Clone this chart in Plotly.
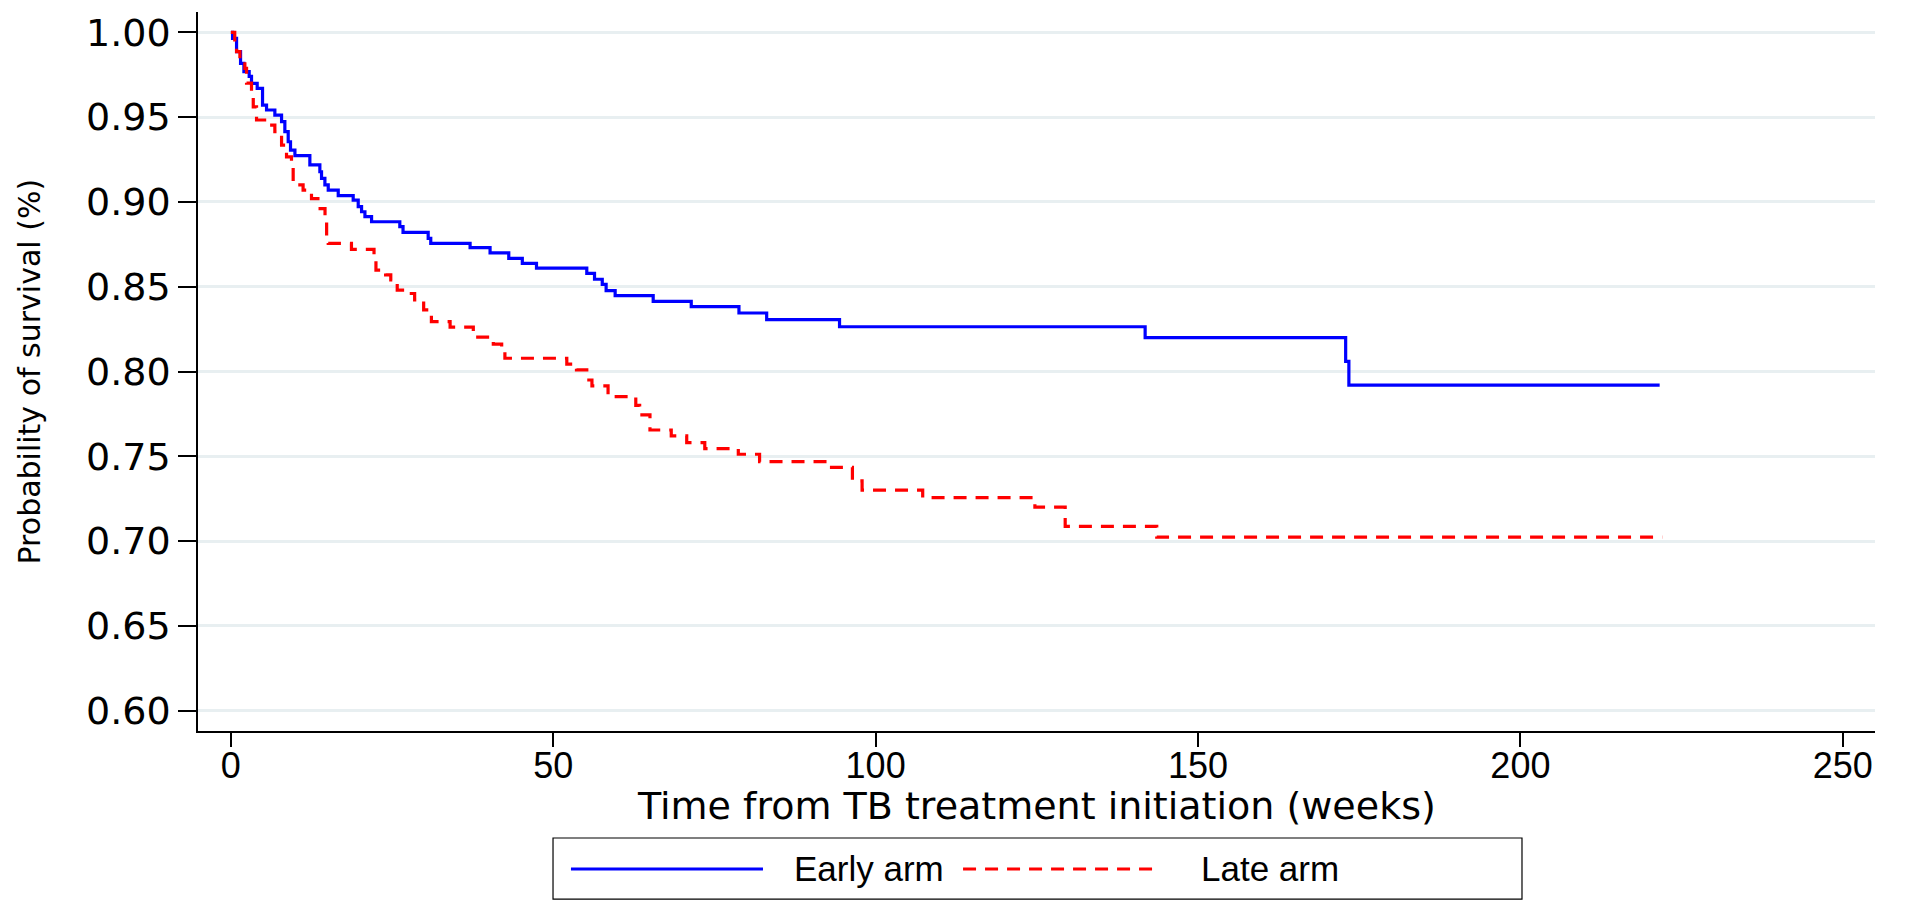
import plotly.graph_objects as go

# Kaplan-Meier step points (time in weeks, survival probability)
early_weeks = [0, 0.26, 0.88, 1.5, 2.02, 2.84, 3.2, 4.08, 4.91, 5.53, 6.82, 7.86, 8.37, 8.89,
               9.25, 9.93, 12.25, 13.8, 14.06, 14.58, 15.1, 16.65, 18.97, 19.75, 20.27, 20.79,
               21.82, 26.2, 26.7, 30.6, 31.0, 37.1, 40.2, 43.1, 45.2, 47.4, 55.2, 56.4, 57.6,
               58.2, 59.6, 65.5, 71.4, 78.8, 83.1, 94.4, 141.8, 172.9, 173.4, 221.6]
early_surv = [1.0, 0.9964, 0.9886, 0.9817, 0.9768, 0.974, 0.9699, 0.967, 0.9571, 0.9542,
              0.9512, 0.9473, 0.9414, 0.9355, 0.9306, 0.9273, 0.9218, 0.9178, 0.9139, 0.910,
              0.907, 0.9037, 0.9011, 0.8972, 0.8942, 0.8913, 0.8883, 0.8854, 0.882, 0.8785,
              0.8756, 0.873, 0.870, 0.8667, 0.8638, 0.861, 0.8579, 0.8544, 0.8514, 0.8477,
              0.8447, 0.8414, 0.8382, 0.8345, 0.8306, 0.8264, 0.820, 0.806, 0.792, 0.792]

late_weeks = [0, 0.6, 0.88, 1.4, 2.17, 2.43, 3.2, 3.47, 3.98, 5.53, 6.82, 7.86, 8.63, 9.4,
              9.66, 11.2, 12.5, 13.5, 14.6, 14.85, 15.1, 18.7, 22.2, 22.5, 24.0, 24.8, 25.8,
              27.5, 28.5, 29.9, 31.1, 34.0, 37.6, 40.7, 42.0, 42.5, 52.1, 53.6, 55.2, 56.0,
              58.5, 62.8, 63.4, 65.0, 68.3, 70.7, 73.5, 78.7, 82.0, 92.6, 96.4, 97.9, 107.3,
              124.7, 129.4, 143.6, 222.0]
late_surv = [1.0, 0.9925, 0.9886, 0.9827, 0.9787, 0.970, 0.963, 0.956, 0.9483, 0.9453,
             0.9414, 0.9335, 0.9266, 0.9218, 0.910, 0.907, 0.902, 0.896, 0.890, 0.8785,
             0.8756, 0.872, 0.866, 0.8598, 0.857, 0.854, 0.848, 0.846, 0.8422, 0.8363,
             0.8294, 0.8262, 0.8203, 0.8162, 0.812, 0.8078, 0.8044, 0.801, 0.795, 0.7915,
             0.7852, 0.780, 0.7744, 0.7655, 0.762, 0.758, 0.7545, 0.7512, 0.7468, 0.7435,
             0.7355, 0.730, 0.7256, 0.720, 0.7087, 0.7023, 0.7023]

series_names = ["Early arm", "Late arm"]
y_ticks = [0.60, 0.65, 0.70, 0.75, 0.80, 0.85, 0.90, 0.95, 1.00]
x_ticks = [0, 50, 100, 150, 200, 250]
x_title = "Time from TB treatment initiation (weeks)"
y_title = "Probability of survival (%)"

BLUE = "#0000FF"
RED = "#FF0000"
DASH = "13px,9px"
FONT = "Liberation Sans, Arial, sans-serif"
WIDE = "DejaVu Sans, sans-serif"

fig = go.Figure()
fig.add_trace(go.Scatter(x=early_weeks, y=early_surv, mode="lines", line_shape="hv",
                         line=dict(color=BLUE, width=3.2), name=series_names[0],
                         showlegend=False))
fig.add_trace(go.Scatter(x=late_weeks, y=late_surv, mode="lines", line_shape="hv",
                         line=dict(color=RED, width=3.2, dash=DASH), name=series_names[1],
                         showlegend=False))

fig.update_layout(
    width=1905, height=904,
    margin=dict(l=198, r=30, t=12, b=173, pad=0),
    paper_bgcolor="white", plot_bgcolor="white",
    font=dict(family=FONT, color="black"),
    showlegend=False,
)

fig.update_xaxes(
    range=[-5.1, 255], tickvals=x_ticks, ticktext=[str(v) for v in x_ticks],
    showgrid=False, zeroline=False,
    showline=True, linecolor="black", linewidth=1.5,
    ticks="outside", ticklen=14, tickwidth=1.5, tickcolor="black",
    ticklabelstandoff=-12,
    tickfont=dict(family=FONT, size=36, color="black"),
)
fig.update_yaxes(
    range=[0.588, 1.012], tickvals=y_ticks, ticktext=[f"{v:.2f}" for v in y_ticks],
    showgrid=True, gridcolor="#e8eff1", gridwidth=2.5, zeroline=False,
    showline=True, linecolor="black", linewidth=1.5,
    ticks="outside", ticklen=18, tickwidth=1.5, tickcolor="black",
    tickfont=dict(family=WIDE, size=38, color="black"),
)

# axis titles
fig.add_annotation(text=x_title, xref="paper", yref="paper", x=0.5, y=-0.104,
                   xanchor="center", yanchor="middle", showarrow=False,
                   font=dict(family=WIDE, size=38, color="black"))
fig.add_annotation(text=y_title, xref="paper", yref="paper", x=-0.1002, y=0.5,
                   xanchor="center", yanchor="middle", showarrow=False, textangle=-90,
                   font=dict(family=WIDE, size=30, color="black"))

# legend drawn as a boxed key below the plot
fig.add_shape(type="rect", xref="paper", yref="paper", x0=0.2117, x1=0.7895,
              y0=-0.2337, y1=-0.1488, line=dict(color="black", width=1.2),
              fillcolor="white")
fig.add_shape(type="line", xref="paper", yref="paper", x0=0.2224, x1=0.3369,
              y0=-0.1919, y1=-0.1919, line=dict(color=BLUE, width=3.2))
fig.add_shape(type="line", xref="paper", yref="paper", x0=0.4562, x1=0.5725,
              y0=-0.1919, y1=-0.1919, line=dict(color=RED, width=3.2, dash=DASH))
fig.add_annotation(text=series_names[0], xref="paper", yref="paper", x=0.3542, y=-0.1919,
                   xanchor="left", yanchor="middle", showarrow=False,
                   font=dict(family=FONT, size=35, color="black"))
fig.add_annotation(text=series_names[1], xref="paper", yref="paper", x=0.5969, y=-0.1919,
                   xanchor="left", yanchor="middle", showarrow=False,
                   font=dict(family=FONT, size=35, color="black"))

fig.write_html("out.html")
